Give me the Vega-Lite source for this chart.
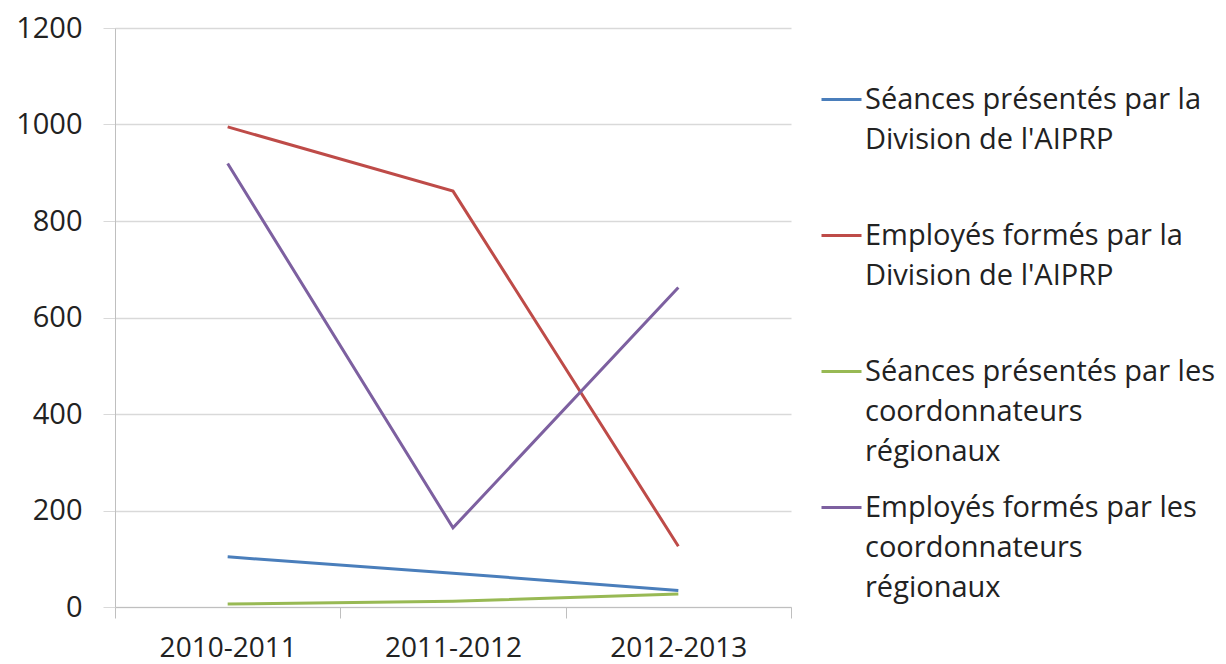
{
  "$schema": "https://vega.github.io/schema/vega-lite/v6.json",
  "autosize": "none",
  "width": 676,
  "height": 579,
  "padding": {"left": 115, "top": 28, "right": 435, "bottom": 57},
  "background": "white",
  "config": {
    "font": "Open Sans",
    "view": {"stroke": null},
    "style": {"guide-label": {"lineHeight": 40}}
  },
  "data": {
    "values": [
      {"annee": "2010-2011", "serie": "Séances présentés par la\nDivision de l'AIPRP", "valeur": 104},
      {"annee": "2011-2012", "serie": "Séances présentés par la\nDivision de l'AIPRP", "valeur": 70},
      {"annee": "2012-2013", "serie": "Séances présentés par la\nDivision de l'AIPRP", "valeur": 34},
      {"annee": "2010-2011", "serie": "Employés formés par la\nDivision de l'AIPRP", "valeur": 995},
      {"annee": "2011-2012", "serie": "Employés formés par la\nDivision de l'AIPRP", "valeur": 862},
      {"annee": "2012-2013", "serie": "Employés formés par la\nDivision de l'AIPRP", "valeur": 126},
      {"annee": "2010-2011", "serie": "Séances présentés par les\ncoordonnateurs\nrégionaux", "valeur": 6},
      {"annee": "2011-2012", "serie": "Séances présentés par les\ncoordonnateurs\nrégionaux", "valeur": 12},
      {"annee": "2012-2013", "serie": "Séances présentés par les\ncoordonnateurs\nrégionaux", "valeur": 27},
      {"annee": "2010-2011", "serie": "Employés formés par les\ncoordonnateurs\nrégionaux", "valeur": 919},
      {"annee": "2011-2012", "serie": "Employés formés par les\ncoordonnateurs\nrégionaux", "valeur": 164},
      {"annee": "2012-2013", "serie": "Employés formés par les\ncoordonnateurs\nrégionaux", "valeur": 662}
    ]
  },
  "mark": {"type": "line", "strokeWidth": 3},
  "encoding": {
    "x": {
      "field": "annee",
      "type": "nominal",
      "scale": {"type": "band", "paddingInner": 0, "paddingOuter": 0},
      "axis": {
        "title": null,
        "labelAngle": 0,
        "labelFontSize": 28,
        "labelColor": "#222222",
        "labelPadding": 16,
        "tickBand": "extent",
        "tickSize": 11,
        "tickColor": "#bfbfbf",
        "domainColor": "#bfbfbf",
        "grid": false
      }
    },
    "y": {
      "field": "valeur",
      "type": "quantitative",
      "scale": {"domain": [0, 1200], "nice": false},
      "axis": {
        "title": null,
        "values": [0, 200, 400, 600, 800, 1000, 1200],
        "format": "d",
        "labelFontSize": 29,
        "labelColor": "#222222",
        "labelPadding": 21,
        "tickSize": 12,
        "tickColor": "#d9d9d9",
        "domainColor": "#bfbfbf",
        "gridColor": "#d9d9d9",
        "gridWidth": 1.5
      }
    },
    "color": {
      "field": "serie",
      "type": "nominal",
      "scale": {
        "domain": [
          "Séances présentés par la\nDivision de l'AIPRP",
          "Employés formés par la\nDivision de l'AIPRP",
          "Séances présentés par les\ncoordonnateurs\nrégionaux",
          "Employés formés par les\ncoordonnateurs\nrégionaux"
        ],
        "range": ["#4A7EBB", "#BE4B48", "#98B954", "#7D60A0"]
      },
      "legend": {
        "title": null,
        "orient": "none",
        "legendX": 705,
        "legendY": 50,
        "symbolType": "stroke",
        "symbolSize": 1600,
        "symbolStrokeWidth": 3,
        "labelFontSize": 29,
        "labelColor": "#222222",
        "labelOffset": 2,
        "labelLimit": 420,
        "labelExpr": "split(datum.label, '\\n')",
        "gridAlign": "all",
        "rowPadding": 19
      }
    }
  }
}
